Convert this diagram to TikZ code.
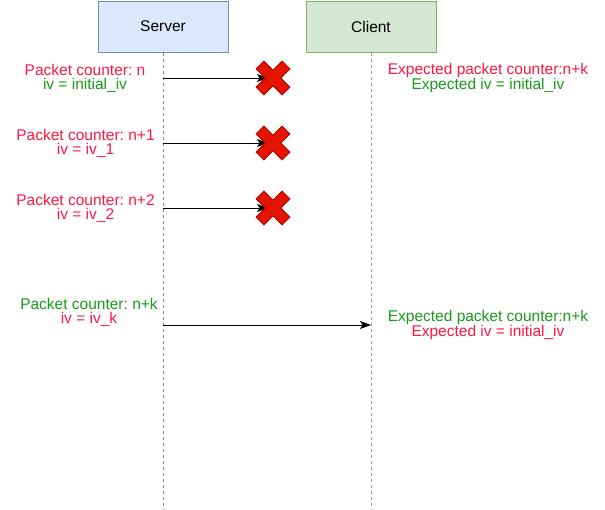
\documentclass[tikz,border=0pt]{standalone}
\usepackage{fontspec}
\setmainfont{Liberation Sans}
\usetikzlibrary{arrows.meta}
\frenchspacing
\definecolor{srvfill}{HTML}{DAE8FC}
\definecolor{srvdraw}{HTML}{6C8EBF}
\definecolor{clifill}{HTML}{D5E8D4}
\definecolor{clidraw}{HTML}{82B366}
\definecolor{txtred}{HTML}{FF1744}
\definecolor{txtgreen}{HTML}{189A18}
\definecolor{xfill}{HTML}{E51400}
\definecolor{xdraw}{HTML}{B20000}
\tikzset{
  actor/.style={draw, line width=1pt, minimum width=130pt, minimum height=51pt, inner sep=0pt, font=\fontsize{15.5}{18}\selectfont},
  life/.style={dashed, dash pattern=on 3pt off 3pt, line width=1pt},
  label/.style={align=center, inner sep=0pt, font=\fontsize{15.5}{14}\selectfont\frenchspacing},
  msg/.style={line width=1pt, -{Stealth[length=11pt,width=8pt,inset=2.5pt]}},
  xmark/.style={fill=xfill, draw=xdraw, line width=0.8pt},
}
\newcommand{\crossmark}[1]{%
  \begin{scope}[shift={(#1)}, rotate=45]
    \path[xmark] (5.5,5.5)--(5.5,18.5)--(-5.5,18.5)--(-5.5,5.5)--(-18.5,5.5)--(-18.5,-5.5)--(-5.5,-5.5)--(-5.5,-18.5)--(5.5,-18.5)--(5.5,-5.5)--(18.5,-5.5)--(18.5,5.5)--cycle;
  \end{scope}}
\begin{document}
\begin{tikzpicture}[x=1pt,y=-1pt]
\useasboundingbox (0,0) rectangle (605,509);
\node[actor, fill=srvfill, draw=srvdraw] (server) at (163,26.5) {Server};
\node[actor, fill=clifill, draw=clidraw] (client) at (371,26.5) {Client};
\coordinate (sEnd) at (163,509);
\coordinate (cEnd) at (371,509);
\draw[life, draw=srvdraw] (server.south) -- (sEnd);
\draw[life, draw=clidraw] (client.south) -- (cEnd);

% messages
\coordinate (s1) at (163,78);  \coordinate (x1) at (273,78);
\coordinate (s2) at (163,143); \coordinate (x2) at (273,143);
\coordinate (s3) at (163,208); \coordinate (x3) at (273,208);
\coordinate (s4) at (163,325); \coordinate (c4) at (371,325);
\draw[msg] (s1) -- ([xshift=-5pt]x1);
\draw[msg] (s2) -- ([xshift=-5pt]x2);
\draw[msg] (s3) -- ([xshift=-5pt]x3);
\draw[msg] (s4) -- (c4);
\crossmark{x1}
\crossmark{x2}
\crossmark{x3}

% labels
\node[label] (l1) at (85,78) {\textcolor{txtred}{Packet counter: n}\\\textcolor{txtgreen}{iv = initial\_iv}};
\node[label] (l2) at (85.5,143) {\textcolor{txtred}{Packet counter: n+1}\\\textcolor{txtred}{iv = iv\_1}};
\node[label] (l3) at (85.5,208) {\textcolor{txtred}{Packet counter: n+2}\\\textcolor{txtred}{iv = iv\_2}};
\node[label] (l4) at (89,312) {\textcolor{txtgreen}{Packet counter: n+k}\\\textcolor{txtred}{iv = iv\_k}};
\node[label] (r1) at (488,78) {\textcolor{txtred}{Expected packet counter:n+k}\\\textcolor{txtgreen}{Expected iv = initial\_iv}};
\node[label] (r2) at (488,325) {\textcolor{txtgreen}{Expected packet counter:n+k}\\\textcolor{txtred}{Expected iv = initial\_iv}};
\end{tikzpicture}
\end{document}
